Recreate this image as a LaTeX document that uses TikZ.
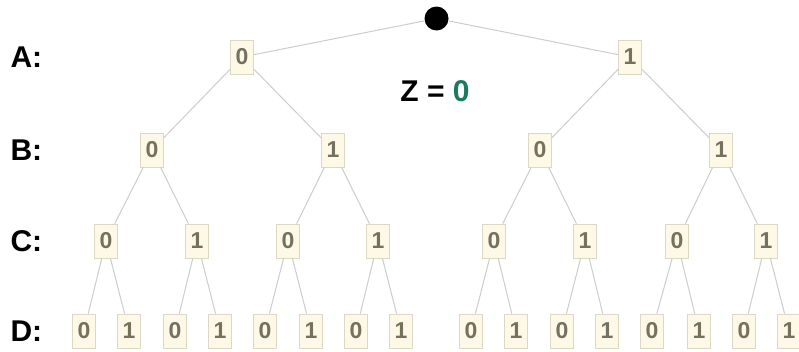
\documentclass[tikz,border=0pt]{standalone}
\usepackage{fontspec}
\setmainfont{Liberation Sans}
\definecolor{boxfill}{HTML}{FEF8E7}
\definecolor{boxline}{HTML}{DDD8C4}
\definecolor{digit}{HTML}{75705F}
\definecolor{edge}{HTML}{CCCCCC}
\definecolor{zgreen}{HTML}{1E7A5E}
\begin{document}
\begin{tikzpicture}[x=1pt,y=-1pt,
  bit/.style={draw=boxline,fill=boxfill,line width=0.8pt,minimum width=23pt,minimum height=34pt,inner sep=0pt,
    font=\fontsize{23}{24}\selectfont\bfseries,text=digit},
  lvl/.style={font=\fontsize{30}{32}\selectfont\bfseries,anchor=west},
  conn/.style={draw=edge,line width=1pt}]
\useasboundingbox (0,0) rectangle (799,351);
\node[circle,fill=black,minimum size=24pt,inner sep=0pt] (r) at (436.5,18.5) {};
% level labels
\node[lvl] (la) at (7,57) {A:};
\node[lvl] (lb) at (7,150) {B:};
\node[lvl] (lc) at (7,241) {C:};
\node[lvl] (ld) at (7,331) {D:};
% A
\node[bit] (a0) at (242,57) {0};
\node[bit] (a1) at (630,57) {1};
% B
\node[bit] (b00) at (152,150) {0};
\node[bit] (b01) at (333,150) {1};
\node[bit] (b10) at (540,150) {0};
\node[bit] (b11) at (721,150) {1};
% C
\node[bit] (c000) at (106,241) {0};
\node[bit] (c001) at (197,241) {1};
\node[bit] (c010) at (288,241) {0};
\node[bit] (c011) at (378,241) {1};
\node[bit] (c100) at (494,241) {0};
\node[bit] (c101) at (585,241) {1};
\node[bit] (c110) at (677,241) {0};
\node[bit] (c111) at (766,241) {1};
% D
\node[bit] (d0000) at (84,331) {0};
\node[bit] (d0001) at (129,331) {1};
\node[bit] (d0010) at (175,331) {0};
\node[bit] (d0011) at (220,331) {1};
\node[bit] (d0100) at (265,331) {0};
\node[bit] (d0101) at (311,331) {1};
\node[bit] (d0110) at (356,331) {0};
\node[bit] (d0111) at (401,331) {1};
\node[bit] (d1000) at (471,331) {0};
\node[bit] (d1001) at (516,331) {1};
\node[bit] (d1010) at (562,331) {0};
\node[bit] (d1011) at (607,331) {1};
\node[bit] (d1100) at (652,331) {0};
\node[bit] (d1101) at (699,331) {1};
\node[bit] (d1110) at (744,331) {0};
\node[bit] (d1111) at (789,331) {1};
% Z label
\node[font=\fontsize{30}{32}\selectfont\bfseries] (z) at (435,91) {Z = \textcolor{zgreen}{0}};
% edges
\foreach \p/\c in {r/a0,r/a1,a0/b00,a0/b01,a1/b10,a1/b11,
  b00/c000,b00/c001,b01/c010,b01/c011,b10/c100,b10/c101,b11/c110,b11/c111,
  c000/d0000,c000/d0001,c001/d0010,c001/d0011,c010/d0100,c010/d0101,c011/d0110,c011/d0111,
  c100/d1000,c100/d1001,c101/d1010,c101/d1011,c110/d1100,c110/d1101,c111/d1110,c111/d1111}
  \draw[conn] (\p) -- (\c);
\end{tikzpicture}
\end{document}
